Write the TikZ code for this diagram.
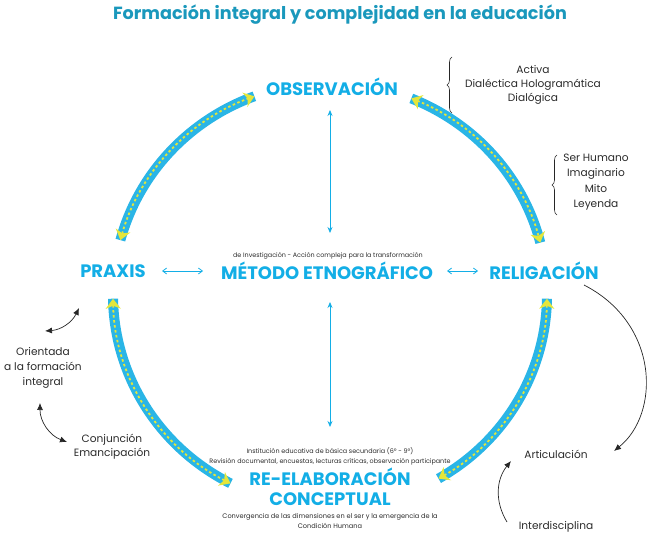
\documentclass[tikz,border=0pt]{standalone}
\usepackage{fontspec}
\setmainfont{Poppins}
\usepackage{tikz}
\usetikzlibrary{arrows.meta,calc,positioning,decorations.pathreplacing}
\definecolor{titleblue}{HTML}{1A98BC}
\definecolor{headcyan}{HTML}{13AEE6}
\definecolor{bandcyan}{HTML}{2AB5E6}
\definecolor{tipyellow}{HTML}{E4E63A}
\definecolor{txtgray}{HTML}{2B2B2B}

\begin{document}
\begin{tikzpicture}[x=1pt,y=1pt,
  head/.style={font=\fontsize{18}{20}\selectfont\bfseries, text=headcyan, align=center, inner sep=1pt},
  note/.style={font=\fontsize{10.6}{14}\selectfont, text=txtgray, align=center, inner sep=1pt},
  fine/.style={font=\fontsize{6.4}{9.5}\selectfont, text=txtgray, align=center, inner sep=1pt},
  band/.style={draw=bandcyan, line width=10pt},
  trail/.style={draw=tipyellow, line width=1.8pt, dash pattern=on 2.5pt off 2.5pt,
    {Stealth[length=10pt,width=15pt,inset=3pt]}-{Stealth[length=10pt,width=15pt,inset=3pt]}},
  link/.style={draw=headcyan, line width=0.8pt, {Stealth[length=6pt,width=5pt]}-{Stealth[length=6pt,width=5pt]}},
  side/.style={draw=headcyan, line width=0.8pt, {Straight Barb[length=4pt,width=6pt]}-{Straight Barb[length=4pt,width=6pt]}},
  curvy/.style={draw=black!85, line width=0.7pt},
  bracket/.style={draw=black!85, line width=0.6pt, decorate, decoration={brace, amplitude=5pt, aspect=0.5}}
]
\useasboundingbox (0,0) rectangle (651,539);

% title
\node[font=\fontsize{17.6}{20}\selectfont\bfseries, text=titleblue] (title) at (340,524)
  {Formación integral y complejidad en la educación};

% main stages
\node[head] (obs) at (332,452) {OBSERVACIÓN};
\node[head] (met) at (327,268) {MÉTODO ETNOGRÁFICO};
\node[head] (prx) at (113,268) {PRAXIS};
\node[head] (rel) at (544,268) {RELIGACIÓN};
\node[head] (reel) at (330,52) {RE-ELABORACIÓN\\CONCEPTUAL};

% small captions
\node[fine] (inv) at (328,283) {de Investigación - Acción compleja para la transformación};
\node[fine] (inst) at (330,82.5)
  {Institución educativa de básica secundaria (6º - 9º)\\Revisión documental, encuestas, lecturas críticas, observación participante};
\node[fine, font=\fontsize{6.6}{10}\selectfont] (conv) at (330,18)
  {Convergencia de las dimensiones en el ser y la emergencia de la\\Condición Humana};

% side notes
\node[note] (act) at (533,454) {Activa\\Dialéctica Hologramática\\Dialógica};
\node[note, font=\fontsize{10.6}{15.3}\selectfont] (ser) at (596,357) {Ser Humano\\Imaginario\\Mito\\Leyenda};
\node[note, font=\fontsize{10.6}{15.3}\selectfont] (ori) at (43,171) {Orientada\\a la formación\\integral};
\node[note] (conj) at (112,92) {Conjunción\\Emancipación};
\node[note] (art) at (556,85) {Articulación};
\node[note] (itd) at (556,12) {Interdisciplina};

% cycle
\coordinate (o) at (330,244);
\foreach \a/\b in {165/110.4, 68/14.3, -1/-60, 181/242.7}
{ \path[band] ($(o)+(\a:217 and 212)$) arc[start angle=\a, end angle=\b, x radius=217, y radius=212];
  \path[trail] ($(o)+(\a:217 and 212)$) arc[start angle=\a, end angle=\b, x radius=217, y radius=212]; }

% links to the method
\draw[link] ($(obs)+(-2,-23)$) -- ($(met)+(3,38)$);
\draw[link] ($(met)+(3,-31)$) -- ($(reel)+(0,60)$);
\draw[side] ($(prx)+(49,0)$) -- ($(met)+(-124,0)$);
\draw[side] ($(met)+(120,0)$) -- ($(rel)+(-66,0)$);

% braces
\draw[bracket] ($(act)+(-81,-28)$) -- ($(act)+(-81,28)$);
\draw[bracket] ($(ser)+(-39,-33)$) -- ($(ser)+(-39,27)$);

% curved arrows
\draw[curvy, {Latex[length=7pt,width=6pt]}-{Latex[length=7pt,width=6pt]}]
  ($(ori)+(2,37)$) to[bend right=30] ($(prx)+(-34,-37)$);
\draw[curvy, {Latex[length=7pt,width=6pt]}-{Latex[length=7pt,width=6pt]}]
  ($(ori)+(-3,-35)$) to[bend right=35] ($(conj)+(-45,5)$);
\draw[curvy, -{Latex[length=7pt,width=6pt]}]
  ($(rel)+(40,-14)$) .. controls (660,215) and (660,125) .. ($(art)+(58,3)$);
\draw[curvy, -{Latex[length=7pt,width=6pt]}]
  ($(itd)+(-49,5)$) to[bend left=35] ($(art)+(-45,-7)$);
\end{tikzpicture}
\end{document}
